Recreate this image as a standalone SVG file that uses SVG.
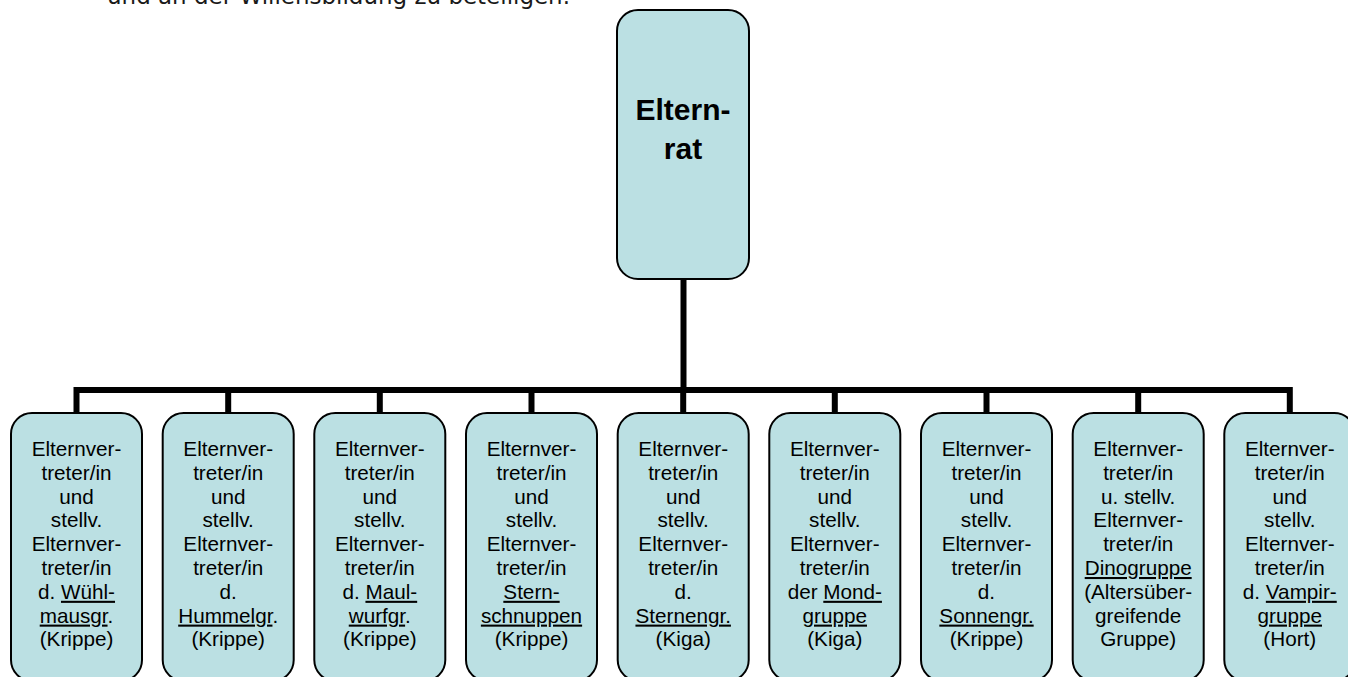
<svg xmlns="http://www.w3.org/2000/svg" width="1348" height="677" viewBox="0 0 1348 677">
<style>
.bg{fill:#ffffff}
.box{fill:#BBE0E3;stroke:#000;stroke-width:2}
.conn{stroke:#000;stroke-width:6;fill:none;stroke-linecap:butt}
.t{font-family:"Liberation Sans",Arial,sans-serif;font-size:20.7px;fill:#000;text-anchor:middle}
.tb{font-family:"Liberation Sans",Arial,sans-serif;font-size:30px;font-weight:bold;fill:#000;text-anchor:middle}
.u{text-decoration:underline}
.top{font-family:"DejaVu Sans","Liberation Sans",sans-serif;font-size:23px;fill:#1a1a1a}
</style>
<rect class="bg" x="0" y="0" width="1348" height="677"/>
<text class="top" x="107" y="4" textLength="463" lengthAdjust="spacingAndGlyphs">und an der Willensbildung zu beteiligen.</text>

<g id="connectors">
<path class="conn" d="M683.5 279 V390"/>
<path class="conn" d="M76.5 390 H1289.8"/>
<path class="conn" d="M76.5 387 V413 M228.2 387 V413 M379.8 387 V413 M531.5 387 V413 M683.2 387 V413 M834.8 387 V413 M986.5 387 V413 M1138.2 387 V413 M1289.8 387 V413"/>
</g>

<g id="elternrat">
<rect class="box" x="617" y="10" width="132" height="269" rx="21" ry="21"/>
<text class="tb"><tspan x="683" y="120">Eltern-</tspan><tspan x="683" y="159">rat</tspan></text>
</g>

<g id="wuehlmaus">
<rect class="box" x="11" y="413" width="131" height="268" rx="21" ry="21"/>
<text class="t"><tspan x="76.5" y="456">Elternver-</tspan><tspan x="76.5" dy="23.8">treter/in</tspan><tspan x="76.5" dy="23.8">und</tspan><tspan x="76.5" dy="23.8">stellv.</tspan><tspan x="76.5" dy="23.8">Elternver-</tspan><tspan x="76.5" dy="23.8">treter/in</tspan><tspan x="76.5" dy="23.8">d. <tspan class="u">Wühl-</tspan></tspan><tspan x="76.5" dy="23.8"><tspan class="u">mausgr</tspan>.</tspan><tspan x="76.5" dy="23.8">(Krippe)</tspan></text>
</g>

<g id="hummel">
<rect class="box" x="162.7" y="413" width="131" height="268" rx="21" ry="21"/>
<text class="t"><tspan x="228.2" y="456">Elternver-</tspan><tspan x="228.2" dy="23.8">treter/in</tspan><tspan x="228.2" dy="23.8">und</tspan><tspan x="228.2" dy="23.8">stellv.</tspan><tspan x="228.2" dy="23.8">Elternver-</tspan><tspan x="228.2" dy="23.8">treter/in</tspan><tspan x="228.2" dy="23.8">d.</tspan><tspan x="228.2" dy="23.8"><tspan class="u">Hummelgr</tspan>.</tspan><tspan x="228.2" dy="23.8">(Krippe)</tspan></text>
</g>

<g id="maulwurf">
<rect class="box" x="314.3" y="413" width="131" height="268" rx="21" ry="21"/>
<text class="t"><tspan x="379.8" y="456">Elternver-</tspan><tspan x="379.8" dy="23.8">treter/in</tspan><tspan x="379.8" dy="23.8">und</tspan><tspan x="379.8" dy="23.8">stellv.</tspan><tspan x="379.8" dy="23.8">Elternver-</tspan><tspan x="379.8" dy="23.8">treter/in</tspan><tspan x="379.8" dy="23.8">d. <tspan class="u">Maul-</tspan></tspan><tspan x="379.8" dy="23.8"><tspan class="u">wurfgr</tspan>.</tspan><tspan x="379.8" dy="23.8">(Krippe)</tspan></text>
</g>

<g id="sternschnuppen">
<rect class="box" x="466" y="413" width="131" height="268" rx="21" ry="21"/>
<text class="t"><tspan x="531.5" y="456">Elternver-</tspan><tspan x="531.5" dy="23.8">treter/in</tspan><tspan x="531.5" dy="23.8">und</tspan><tspan x="531.5" dy="23.8">stellv.</tspan><tspan x="531.5" dy="23.8">Elternver-</tspan><tspan x="531.5" dy="23.8">treter/in</tspan><tspan x="531.5" dy="23.8" class="u">Stern-</tspan><tspan x="531.5" dy="23.8" class="u">schnuppen</tspan><tspan x="531.5" dy="23.8">(Krippe)</tspan></text>
</g>

<g id="sternen">
<rect class="box" x="617.7" y="413" width="131" height="268" rx="21" ry="21"/>
<text class="t"><tspan x="683.2" y="456">Elternver-</tspan><tspan x="683.2" dy="23.8">treter/in</tspan><tspan x="683.2" dy="23.8">und</tspan><tspan x="683.2" dy="23.8">stellv.</tspan><tspan x="683.2" dy="23.8">Elternver-</tspan><tspan x="683.2" dy="23.8">treter/in</tspan><tspan x="683.2" dy="23.8">d.</tspan><tspan x="683.2" dy="23.8" class="u">Sternengr.</tspan><tspan x="683.2" dy="23.8">(Kiga)</tspan></text>
</g>

<g id="mond">
<rect class="box" x="769.3" y="413" width="131" height="268" rx="21" ry="21"/>
<text class="t"><tspan x="834.8" y="456">Elternver-</tspan><tspan x="834.8" dy="23.8">treter/in</tspan><tspan x="834.8" dy="23.8">und</tspan><tspan x="834.8" dy="23.8">stellv.</tspan><tspan x="834.8" dy="23.8">Elternver-</tspan><tspan x="834.8" dy="23.8">treter/in</tspan><tspan x="834.8" dy="23.8">der <tspan class="u">Mond-</tspan></tspan><tspan x="834.8" dy="23.8" class="u">gruppe</tspan><tspan x="834.8" dy="23.8">(Kiga)</tspan></text>
</g>

<g id="sonnen">
<rect class="box" x="921" y="413" width="131" height="268" rx="21" ry="21"/>
<text class="t"><tspan x="986.5" y="456">Elternver-</tspan><tspan x="986.5" dy="23.8">treter/in</tspan><tspan x="986.5" dy="23.8">und</tspan><tspan x="986.5" dy="23.8">stellv.</tspan><tspan x="986.5" dy="23.8">Elternver-</tspan><tspan x="986.5" dy="23.8">treter/in</tspan><tspan x="986.5" dy="23.8">d.</tspan><tspan x="986.5" dy="23.8" class="u">Sonnengr.</tspan><tspan x="986.5" dy="23.8">(Krippe)</tspan></text>
</g>

<g id="dino">
<rect class="box" x="1072.7" y="413" width="131" height="268" rx="21" ry="21"/>
<text class="t"><tspan x="1138.2" y="456">Elternver-</tspan><tspan x="1138.2" dy="23.8">treter/in</tspan><tspan x="1138.2" dy="23.8">u. stellv.</tspan><tspan x="1138.2" dy="23.8">Elternver-</tspan><tspan x="1138.2" dy="23.8">treter/in</tspan><tspan x="1138.2" dy="23.8" class="u">Dinogruppe</tspan><tspan x="1138.2" dy="23.8">(Altersüber-</tspan><tspan x="1138.2" dy="23.8">greifende</tspan><tspan x="1138.2" dy="23.8">Gruppe)</tspan></text>
</g>

<g id="vampir">
<rect class="box" x="1224.3" y="413" width="131" height="268" rx="21" ry="21"/>
<text class="t"><tspan x="1289.8" y="456">Elternver-</tspan><tspan x="1289.8" dy="23.8">treter/in</tspan><tspan x="1289.8" dy="23.8">und</tspan><tspan x="1289.8" dy="23.8">stellv.</tspan><tspan x="1289.8" dy="23.8">Elternver-</tspan><tspan x="1289.8" dy="23.8">treter/in</tspan><tspan x="1289.8" dy="23.8">d. <tspan class="u">Vampir-</tspan></tspan><tspan x="1289.8" dy="23.8" class="u">gruppe</tspan><tspan x="1289.8" dy="23.8">(Hort)</tspan></text>
</g>
</svg>
